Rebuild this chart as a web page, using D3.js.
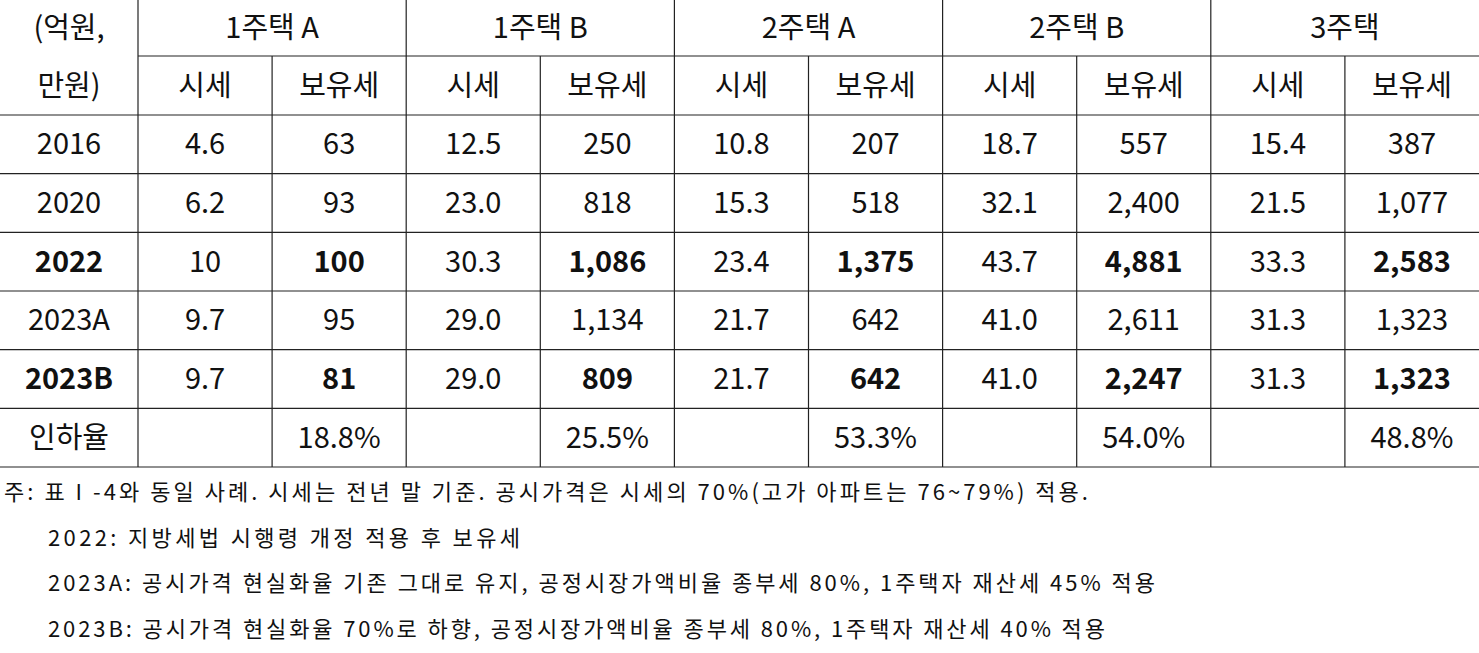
<!DOCTYPE html>
<html><head><meta charset="utf-8">
<script src="https://cdn.jsdelivr.net/npm/d3@7"></script>
<style>body{margin:0;background:#fff}text{font-family:"Noto Sans CJK KR";fill:#111}</style>
</head><body><svg id="t" width="1479" height="653"></svg>
<script>
const groups = ["1주택 A","1주택 B","2주택 A","2주택 B","3주택"];
const subs = ["시세","보유세"];
const years = ["2016","2020","2022","2023A","2023B","인하율"];
const boldRows = ["2022","2023B"];
const values = [
  ["4.6","63","12.5","250","10.8","207","18.7","557","15.4","387"],
  ["6.2","93","23.0","818","15.3","518","32.1","2,400","21.5","1,077"],
  ["10","100","30.3","1,086","23.4","1,375","43.7","4,881","33.3","2,583"],
  ["9.7","95","29.0","1,134","21.7","642","41.0","2,611","31.3","1,323"],
  ["9.7","81","29.0","809","21.7","642","41.0","2,247","31.3","1,323"],
  ["","18.8%","","25.5%","","53.3%","","54.0%","","48.8%"]
];
const notes = [
  "주: 표 I -4와 동일 사례. 시세는 전년 말 기준. 공시가격은 시세의 70%(고가 아파트는 76~79%) 적용.",
  "2022: 지방세법 시행령 개정 적용 후 보유세",
  "2023A: 공시가격 현실화율 기존 그대로 유지, 공정시장가액비율 종부세 80%, 1주택자 재산세 45% 적용",
  "2023B: 공시가격 현실화율 70%로 하향, 공정시장가액비율 종부세 80%, 1주택자 재산세 40% 적용"
];
const noteWidths = [1084, 472, 1107, 1057];

const svg = d3.select("#t");
const x = d3.scaleLinear().domain([0, 10]).range([138, 1479]);
const y = d3.scaleBand().domain(years).range([115, 467]);
const line = (x1,y1,x2,y2)=>svg.append("line").attr("x1",x1).attr("y1",y1).attr("x2",x2).attr("y2",y2).attr("stroke","#222").attr("stroke-width",1.2);
const fs = 29;

// grid
line(138,56,1479,56);
line(0,115,1479,115);
line(0,467,1479,467);
years.forEach((yr,i)=>{ if(i>0) line(0,y(yr),1479,y(yr)); });
d3.range(0,10,2).forEach(i=>line(x(i),0,x(i),467));
d3.range(1,10,2).forEach(i=>line(x(i),56,x(i),467));

// headers
svg.append("text").attr("x",69).attr("y",38).attr("text-anchor","middle").attr("font-size",fs).text("(억원,");
svg.append("text").attr("x",69).attr("y",96).attr("text-anchor","middle").attr("font-size",fs).text("만원)");
groups.forEach((g,i)=>svg.append("text").attr("x",(x(2*i)+x(2*i+2))/2).attr("y",38).attr("text-anchor","middle").attr("font-size",fs).text(g));
d3.range(10).forEach(i=>svg.append("text").attr("x",(x(i)+x(i+1))/2).attr("y",96).attr("text-anchor","middle").attr("font-size",fs).text(subs[i%2]));

// rows
years.forEach((yr,r)=>{
  const b = boldRows.includes(yr);
  const cy = y(yr)+y.bandwidth()/2+10;
  svg.append("text").attr("x",69).attr("y",cy).attr("text-anchor","middle").attr("font-size",fs)
    .attr("font-weight",b?"bold":"normal").text(yr);
  values[r].forEach((v,c)=>svg.append("text").attr("x",(x(c)+x(c+1))/2).attr("y",cy).attr("text-anchor","middle")
    .attr("font-size",fs).attr("font-weight",b&&c%2===1?"bold":"normal").text(v));
});

// notes
notes.forEach((n,i)=>svg.append("text").attr("x",i===0?4:48).attr("y",500+i*45.5).attr("font-size",22)
  .attr("textLength",noteWidths[i]).attr("lengthAdjust","spacing").text(n));
</script></body></html>
